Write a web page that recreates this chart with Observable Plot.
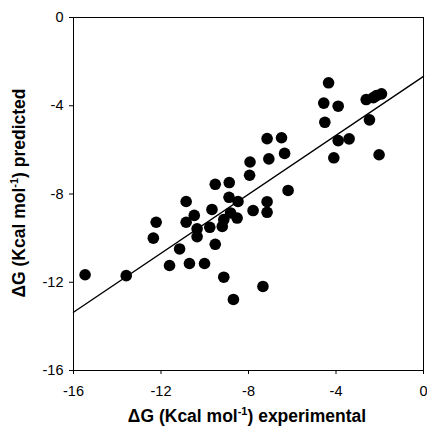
<!DOCTYPE html>
<html><head><meta charset="utf-8">
<script src="https://cdn.jsdelivr.net/npm/d3@7"></script>
<script src="https://cdn.jsdelivr.net/npm/@observablehq/plot@0.6"></script>
<style>body{margin:0;background:#fff}</style>
</head><body><div id="chart"></div>
<script>
const expX = [-15.47,-13.59,-12.22,-12.35,-11.61,-11.15,-10.70,-10.01,-10.85,-10.85,
  -10.48,-10.35,-10.35,-9.77,-9.67,-9.52,-9.52,-9.20,-9.13,-8.88,
  -8.89,-8.48,-8.82,-8.52,-9.13,-8.69,-7.34,-7.93,-7.95,-7.79,
  -7.15,-7.15,-7.15,-7.07,-6.49,-6.35,-6.19,-4.34,-4.56,-3.90,
  -4.51,-3.90,-3.40,-4.10,-2.62,-2.29,-2.15,-1.92,-2.47,-2.03];
const predY = [-11.66,-11.70,-9.28,-10.00,-11.24,-10.49,-11.15,-11.15,-9.28,-8.34,
  -8.97,-9.58,-9.93,-9.51,-8.70,-10.28,-7.56,-9.47,-9.16,-7.48,
  -8.15,-8.34,-8.86,-9.09,-11.77,-12.78,-12.19,-6.55,-7.15,-8.75,
  -8.35,-8.83,-5.49,-6.41,-5.45,-6.16,-7.84,-2.96,-3.88,-4.02,
  -4.75,-5.58,-5.50,-6.36,-3.72,-3.63,-3.54,-3.46,-4.64,-6.22];
const xTicks = [-16,-12,-8,-4,0];
const yTicks = [0,-4,-8,-12,-16];
const fitX = [-16, 0];
const fitY = [-13.36, -2.67];

const points = expX.map((x,i)=>({x, y: predY[i]}));
const fit = fitX.map((x,i)=>({x, y: fitY[i]}));

const chart = Plot.plot({
  width: 427, height: 431,
  marginLeft: 73, marginRight: 4, marginTop: 17, marginBottom: 61,
  style: {fontFamily: "'Liberation Sans', Arial, sans-serif", fontSize: "14.5px", background: "#fff", color: "#000"},
  x: {domain: [-16,0], ticks: xTicks, label: null, tickSize: 4, tickPadding: 11, tickFormat: d => String(d)},
  y: {domain: [-16,0], ticks: yTicks, label: null, tickSize: 4, tickPadding: 6, tickFormat: d => String(d)},
  marks: [
    Plot.frame({stroke: "#000", strokeWidth: 1}),
    Plot.line(fit, {x:"x", y:"y", stroke:"#000", strokeWidth: 1.4}),
    Plot.dot(points, {x:"x", y:"y", r: 5.8, fill: "#000", stroke: "none"})
  ]
});
document.getElementById("chart").appendChild(chart);

const svg = d3.select(chart);
function title(g) {
  g.attr("font-family", "'Liberation Sans', Arial, sans-serif")
   .attr("font-weight", "bold").attr("font-size", 17.5).attr("fill", "#000")
   .attr("text-anchor", "middle");
}
const xt = svg.append("text").call(title).attr("x", 247).attr("y", 422);
xt.append("tspan").text("\u0394G (Kcal mol");
xt.append("tspan").attr("dy", -7).attr("font-size", 11).text("-1");
xt.append("tspan").attr("dy", 7).text(") experimental");

const yt = svg.append("text").call(title).attr("transform", "translate(25,193) rotate(-90)");
yt.append("tspan").text("\u0394G (Kcal mol");
yt.append("tspan").attr("dy", -7).attr("font-size", 11).text("-1");
yt.append("tspan").attr("dy", 7).text(") predicted");
</script>
</body></html>
